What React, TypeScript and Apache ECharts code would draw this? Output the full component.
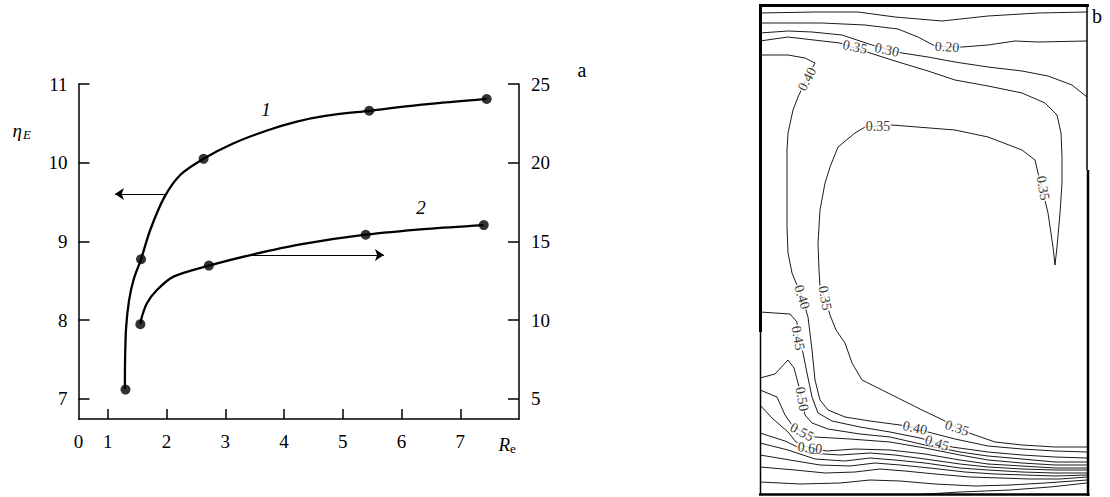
import React, { useEffect, useRef } from "react";
import * as echarts from "echarts";

const FONT = "Liberation Serif";

// Left panel (a)
const xTickValues = [1, 2, 3, 4, 5, 6, 7];
const xLabelValues = [0.5, 1, 2, 3, 4, 5, 6, 7];
const leftTicks = [7, 8, 9, 10, 11];
const rightTicks = [5, 10, 15, 20, 25];

const markers1 = [[1.3, 7.12], [1.565, 8.775], [2.63, 10.05], [5.45, 10.66], [7.45, 10.81]];
const markers2 = [[1.553, 9.75], [2.72, 13.47], [5.39, 15.43], [7.4, 16.04]];

const curve1 = [
  [1.29, 7.13], [1.293, 7.5], [1.31, 7.9], [1.36, 8.25], [1.44, 8.52], [1.565, 8.775],
  [1.721, 9.146], [1.96, 9.56], [2.232, 9.844], [2.63, 10.05], [3.141, 10.247],
  [3.71, 10.41], [4.2, 10.52], [4.7, 10.595], [5.45, 10.66], [6.4, 10.74], [7.45, 10.81],
];
const curve2 = [
  [1.553, 9.75], [1.58, 10.23], [1.665, 11.08], [1.835, 11.92], [2.118, 12.77], [2.72, 13.47],
  [3.482, 14.19], [4.277, 14.82], [5.39, 15.43], [6.437, 15.8], [7.4, 16.04],
];
const arrow1 = [[1.98, 9.603], [1.12, 9.603]];
const arrow2 = [[3.45, 14.15], [5.7, 14.15]];

// Right panel (b): contour lines, x 0..327 across, y 0..490 downward
const contourLines = [
  [[0, 8], [55, 7], [98, 7], [135, 12], [182, 16], [228, 11], [278, 8], [327, 7]],
  [[0, 18], [62, 18], [105, 20], [138, 24], [158, 32], [173, 40], [187, 42], [202, 42], [228, 40], [255, 36], [278, 37], [327, 36]],
  [[0, 28], [28, 26], [52, 27], [82, 30], [112, 40], [127, 44], [142, 48], [168, 52], [195, 57], [228, 62], [262, 66], [288, 71], [312, 80], [327, 92]],
  [[0, 36], [28, 32], [45, 34], [80, 38], [95, 43], [110, 48], [135, 56], [168, 66], [195, 75], [228, 81], [262, 88], [285, 98], [297, 110], [301, 128], [302, 152], [302, 178], [300, 208], [297, 242], [295, 260], [293, 242], [288, 208], [282, 183], [278, 168], [275, 155], [262, 145], [228, 132], [195, 125], [132, 120], [118, 121], [105, 122], [95, 128], [78, 142], [70, 162], [65, 178], [60, 205], [58, 238], [59, 265], [60, 282], [65, 293], [70, 310], [76, 325], [85, 338], [92, 358], [102, 375], [128, 388], [162, 405], [183, 415], [197, 423], [212, 429], [235, 437], [262, 440], [295, 442], [327, 442]],
  [[0, 50], [28, 50], [45, 53], [55, 58], [47, 73], [38, 92], [33, 105], [28, 128], [27, 145], [27, 165], [27, 222], [28, 248], [32, 268], [42, 292], [48, 312], [52, 345], [55, 375], [60, 395], [68, 405], [85, 412], [110, 416], [140, 420], [155, 423], [168, 427], [195, 434], [228, 441], [262, 444], [295, 446], [327, 447]],
  [[0, 307], [30, 309], [37, 317], [38, 333], [43, 348], [47, 368], [52, 392], [58, 408], [72, 416], [100, 422], [130, 427], [160, 433], [177, 438], [192, 442], [228, 447], [262, 450], [295, 452], [327, 453]],
  [[0, 373], [15, 369], [28, 355], [34, 363], [38, 378], [42, 394], [45, 410], [52, 418], [68, 424], [100, 429], [130, 432], [165, 440], [200, 447], [228, 451], [262, 454], [295, 457], [327, 457]],
  [[0, 385], [17, 392], [25, 410], [32, 420], [42, 427], [55, 432], [90, 434], [130, 437], [165, 443], [200, 450], [228, 455], [262, 458], [295, 460], [327, 460]],
  [[0, 400], [12, 413], [28, 427], [36, 437], [50, 443], [67, 446], [95, 444], [130, 445], [165, 449], [200, 455], [228, 459], [262, 461], [295, 463], [327, 463]],
  [[0, 428], [25, 436], [50, 448], [80, 450], [110, 448], [135, 450], [165, 454], [200, 459], [228, 462], [262, 464], [295, 465], [327, 465]],
  [[0, 438], [28, 445], [55, 454], [85, 456], [110, 453], [135, 455], [165, 458], [200, 463], [228, 465], [262, 467], [295, 468], [327, 468]],
  [[0, 450], [30, 455], [60, 460], [90, 461], [115, 458], [140, 460], [170, 463], [205, 467], [235, 469], [265, 470], [295, 471], [327, 470]],
  [[0, 462], [35, 465], [65, 468], [95, 467], [120, 464], [145, 466], [175, 469], [210, 472], [240, 473], [270, 474], [300, 474], [327, 472]],
  [[0, 477], [40, 479], [80, 478], [110, 475], [140, 476], [175, 479], [215, 481], [250, 480], [285, 478], [327, 475]],
  [[150, 490], [200, 487], [250, 485], [290, 482], [327, 478]],
];
const contourLabelText = ["0.20", "0.30", "0.35", "0.40", "0.35", "0.35", "0.40", "0.35", "0.45", "0.50", "0.55", "0.60", "0.40", "0.45", "0.35"];
const contourLabelPos = [[187, 42], [127, 45], [95, 42], [47, 74], [118, 121], [283, 183], [42, 292], [65, 293], [38, 333], [42, 394], [42, 427], [50, 443], [155, 423], [177, 438], [197, 423]];
const contourLabelRot = [-4, -12, -12, 62, 0, -80, -72, -80, -80, -80, -28, -6, -12, -18, -18];

const axisCommon = (ticks: number[], margin: number) => ({
  type: "value",
  axisLine: { show: true, onZero: false, lineStyle: { color: "#000", width: 1.5 } },
  axisTick: { show: true, inside: true, length: 11, customValues: ticks, lineStyle: { color: "#000", width: 1.5 } },
  axisLabel: { customValues: ticks, color: "#000", fontSize: 19, fontFamily: FONT, margin },
  splitLine: { show: false },
});

const txt = (x: number, y: number, text: string, size: number, italic: boolean, align: string) => ({
  type: "text",
  x,
  y,
  silent: true,
  style: {
    text,
    fontSize: size,
    fontStyle: italic ? "italic" : "normal",
    fontFamily: FONT,
    fill: "#000",
    align,
    verticalAlign: "middle",
  },
});

export default function App() {
  const ref = useRef<HTMLDivElement>(null);
  useEffect(() => {
    const chart = echarts.init(ref.current!, null, { renderer: "svg" });
    const contourSeries = contourLines.map((pts) => ({
      type: "line",
      xAxisIndex: 1,
      yAxisIndex: 2,
      data: pts,
      symbol: "none",
      silent: true,
      z: 2,
      lineStyle: { color: "#000", width: 0.9 },
    }));
    const option: any = {
      animation: false,
      backgroundColor: "#fff",
      textStyle: { fontFamily: FONT },
      grid: [
        { left: 78.5, top: 84, width: 440.5, height: 335 },
        { left: 760, top: 5, width: 327, height: 490 },
      ],
      xAxis: [
        {
          ...axisCommon(xTickValues, 13),
          gridIndex: 0,
          min: 0.5,
          max: 8,
          axisTick: { show: true, inside: true, length: 10, customValues: xTickValues, lineStyle: { color: "#000", width: 1.5 } },
          axisLabel: {
            customValues: xLabelValues,
            color: "#000",
            fontSize: 19,
            fontFamily: FONT,
            margin: 13,
            formatter: (v: number) => (v === 0.5 ? "0" : String(v)),
          },
        },
        { type: "value", gridIndex: 1, min: 0, max: 327, show: false },
      ],
      yAxis: [
        { ...axisCommon(leftTicks, 11), gridIndex: 0, position: "left", min: 6.746, max: 11 },
        { ...axisCommon(rightTicks, 12), gridIndex: 0, position: "right", min: 3.73, max: 25 },
        { type: "value", gridIndex: 1, min: 0, max: 490, inverse: true, show: false },
      ],
      series: [
        {
          type: "line",
          xAxisIndex: 0,
          yAxisIndex: 0,
          data: curve1,
          smooth: 0.3,
          symbol: "none",
          silent: true,
          lineStyle: { color: "#000", width: 2.3 },
          markLine: {
            silent: true,
            symbol: ["none", "arrow"],
            symbolSize: 9,
            label: { show: false },
            lineStyle: { color: "#000", width: 1.1, type: "solid" },
            data: [[{ coord: arrow1[0] }, { coord: arrow1[1] }]],
          },
        },
        {
          type: "scatter",
          xAxisIndex: 0,
          yAxisIndex: 0,
          data: markers1,
          symbolSize: 10,
          silent: true,
          itemStyle: { color: "#000" },
        },
        {
          type: "line",
          xAxisIndex: 0,
          yAxisIndex: 1,
          data: curve2,
          smooth: 0.3,
          symbol: "none",
          silent: true,
          lineStyle: { color: "#000", width: 2.3 },
          markLine: {
            silent: true,
            symbol: ["none", "arrow"],
            symbolSize: 9,
            label: { show: false },
            lineStyle: { color: "#000", width: 1.1, type: "solid" },
            data: [[{ coord: arrow2[0] }, { coord: arrow2[1] }]],
          },
        },
        {
          type: "scatter",
          xAxisIndex: 0,
          yAxisIndex: 1,
          data: markers2,
          symbolSize: 10,
          silent: true,
          itemStyle: { color: "#000" },
        },
        ...contourSeries,
        {
          type: "scatter",
          xAxisIndex: 1,
          yAxisIndex: 2,
          symbolSize: 0,
          silent: true,
          z: 5,
          itemStyle: { color: "#000" },
          label: {
            show: true,
            position: "inside",
            fontSize: 14,
            fontFamily: FONT,
            color: "#000",
            backgroundColor: "#fff",
            lineHeight: 10,
            padding: [0, 1],
          },
          data: contourLabelPos.map((p, i) => ({
            value: p,
            label: {
              formatter: contourLabelText[i],
              rotate: contourLabelRot[i],
              color: "#000",
            },
          })),
        },
      ],
      graphic: [
        txt(22, 130, "η", 19, true, "right"),
        txt(23, 134, "E", 13, true, "left"),
        txt(510, 444, "R", 19, true, "right"),
        txt(510, 448, "e", 13, false, "left"),
        txt(266, 109, "1", 19, true, "center"),
        txt(421, 207, "2", 19, true, "center"),
        txt(582, 70, "a", 20, false, "center"),
        txt(1097, 16, "b", 20, false, "center"),
        { type: "line", silent: true, shape: { x1: 759, y1: 5.5, x2: 1089, y2: 5.5 }, style: { stroke: "#000", lineWidth: 3 } },
        { type: "line", silent: true, shape: { x1: 760.5, y1: 4, x2: 760.5, y2: 332 }, style: { stroke: "#000", lineWidth: 3 } },
        { type: "line", silent: true, shape: { x1: 760.5, y1: 332, x2: 760.5, y2: 495 }, style: { stroke: "#000", lineWidth: 1.5 } },
        { type: "line", silent: true, shape: { x1: 1087, y1: 5, x2: 1087, y2: 170 }, style: { stroke: "#000", lineWidth: 1.5 } },
        { type: "line", silent: true, shape: { x1: 1088, y1: 170, x2: 1088, y2: 496 }, style: { stroke: "#000", lineWidth: 2.5 } },
        { type: "line", silent: true, shape: { x1: 759, y1: 494.5, x2: 1089.5, y2: 494.5 }, style: { stroke: "#000", lineWidth: 2.5 } },
      ],
    };
    chart.setOption(option);
    return () => chart.dispose();
  }, []);
  return (
    <div
      ref={ref}
      style={{ position: "fixed", left: 0, top: 0, width: 1110, height: 497, background: "#fff" }}
    />
  );
}
